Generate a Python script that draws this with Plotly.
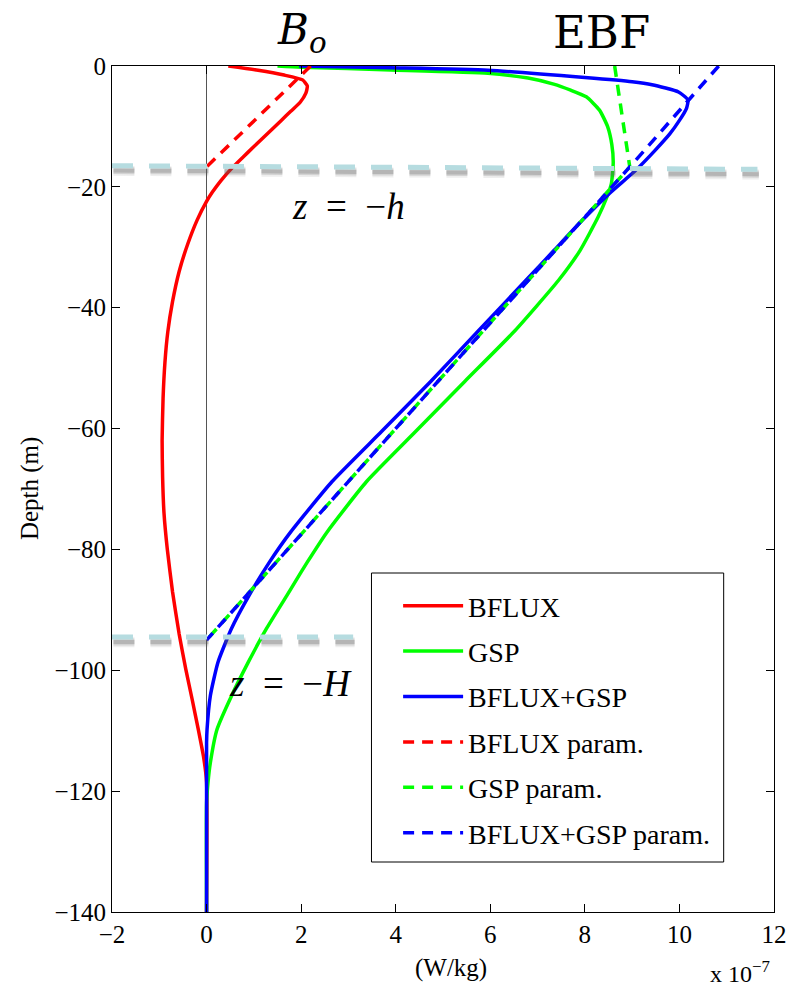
import plotly.graph_objects as go

# Energy source profiles vs depth (units of 1e-7 W/kg)
bflux_x = [0.46, 1.09, 1.64, 2.03, 2.13, 2.1, 1.98, 1.78, 1.58, 1.38, 1.18, 0.98, 0.78, 0.56, 0.3,
           0.12, 0.0, -0.2, -0.4, -0.58, -0.72, -0.82, -0.88, -0.92, -0.94, -0.93, -0.9, -0.83,
           -0.72, -0.58, -0.44, -0.3, -0.17, -0.06, 0.0, 0.0]
bflux_z = [0, -0.7, -1.5, -2.3, -3.3, -4.5, -6.0, -7.5, -9.0, -10.5, -12.0, -13.5, -15.0, -16.7,
           -19.0, -20.9, -22.4, -25.5, -29.5, -34.0, -39.0, -44.0, -49.0, -55.0, -62.0, -68.0,
           -74.0, -80.0, -87.0, -94.0, -99.8, -105.0, -110.0, -114.5, -118.5, -140]

gsp_x = [1.5, 2.0, 3.9, 5.95, 6.8, 7.34, 7.7, 8.03, 8.31, 8.48, 8.57, 8.6, 8.56, 8.45, 8.28, 7.9,
         7.44, 6.51, 5.46, 4.42, 3.38, 2.55, 2.13, 1.87, 1.7, 1.26, 0.88, 0.53, 0.22, 0.08, 0.03,
         0.0, 0.0]
gsp_z = [0, -0.2, -0.65, -1.2, -2.0, -3.0, -4.0, -5.1, -7.3, -10.0, -13.0, -16.0, -19.5, -22.0,
         -25.0, -30.5, -35.5, -43.9, -52.2, -60.5, -68.8, -77.1, -82.1, -85.4, -87.6, -93.2, -98.7,
         -104.2, -109.8, -115.3, -118.6, -122.0, -140]

sum_x = [1.96, 3.9, 5.95, 8.0, 9.0, 9.42, 9.98, 10.18, 10.15, 10.0, 9.8, 9.48, 9.07, 8.53, 7.95,
         7.35, 6.75, 5.74, 4.74, 3.7, 2.65, 1.78, 1.33, 0.9, 0.52, 0.24, 0.08, 0.01, 0.0, 0.0]
sum_z = [0, -0.3, -0.7, -1.9, -2.6, -3.1, -4.3, -5.6, -7.0, -9.0, -11.2, -14.0, -17.3, -21.0,
         -25.5, -30.5, -35.5, -43.9, -52.2, -60.5, -68.8, -77.1, -82.1, -87.6, -93.2, -98.7,
         -104.2, -109.8, -112.0, -140]

# Parameterised profiles
bflux_par_x = [2.2, 0.0]
bflux_par_z = [0, -16.7]
gsp_par_x = [8.63, 8.95, 0.0]
gsp_par_z = [0, -16.7, -95.0]
sum_par_x = [10.83, 8.95, 0.0]
sum_par_z = [0, -16.7, -95.0]

# Mixed-layer depth h and forcing depth H
h_depth_left, h_depth_right = -16.5, -17.1
H_depth = -94.5

x_ticks = [-2, 0, 2, 4, 6, 8, 10, 12]
y_ticks = [0, -20, -40, -60, -80, -100, -120, -140]

RED, GREEN, BLUE = "#ff0000", "#00ff00", "#0000ff"
SERIF = "Liberation Serif, Times New Roman, serif"
MATH = "DejaVu Serif, serif"
DASH = "11px,8px"

fig = go.Figure()

series = [
    ("BFLUX", bflux_x, bflux_z, RED, "solid"),
    ("GSP", gsp_x, gsp_z, GREEN, "solid"),
    ("BFLUX+GSP", sum_x, sum_z, BLUE, "solid"),
    ("BFLUX param.", bflux_par_x, bflux_par_z, RED, DASH),
    ("GSP param.", gsp_par_x, gsp_par_z, GREEN, DASH),
    ("BFLUX+GSP param.", sum_par_x, sum_par_z, BLUE, DASH),
]
for i, (name, xs, zs, color, dash) in enumerate(series):
    fig.add_trace(go.Scatter(
        x=xs, y=zs, mode="lines", name=name, legendgroup=f"g{i}",
        line=dict(color=color, width=3.5, dash=dash,
                  shape="spline" if dash == "solid" else "linear", smoothing=0.5),
    ))

shapes = []

# legend frame
shapes.append(dict(type="rect", xref="paper", yref="paper",
                   x0=(375 - 112) / 671, x1=(732 - 112) / 671,
                   y0=(912 - 862) / 846, y1=(912 - 573) / 846,
                   line=dict(color="black", width=1), fillcolor="white", layer="below"))


def ref_line(x0, x1, y0, y1):
    # soft grey shadow under a pale cyan dashed marker line
    out = []
    for w, a, off in [(10, 0.10, 0.85), (7, 0.18, 0.8), (4, 0.25, 0.8)]:
        out.append(dict(type="line", xref="x", yref="y", x0=x0 + 0.03, x1=x1 + 0.03,
                        y0=y0 - off, y1=y1 - off,
                        line=dict(color=f"rgba(90,90,90,{a})", width=w, dash="21px,16px")))
    out.append(dict(type="line", xref="x", yref="y", x0=x0, x1=x1, y0=y0, y1=y1,
                    line=dict(color="#b6dce0", width=5, dash="21px,16px")))
    return out


shapes += ref_line(-2, 11.65, h_depth_left, h_depth_right)
shapes += ref_line(-2, 3.1, H_depth, H_depth)

annotations = [
    dict(x=305, y=32, text="<i>B</i><sub><i>o</i></sub>",
         font=dict(family=MATH, size=42, color="black")),
    dict(x=608, y=32, text="EBF", font=dict(family=MATH, size=45, color="black")),
    dict(x=352, y=207, text="<i>z</i>\u2002=\u2002\u2212<i>h</i>",
         font=dict(family=SERIF, size=37, color="black")),
    dict(x=293, y=683, text="<i>z</i>\u2002=\u2002\u2212<i>H</i>",
         font=dict(family=SERIF, size=37, color="black")),
    dict(x=29, y=489, text="Depth (m)", textangle=-90,
         font=dict(family=SERIF, size=25, color="black")),
    dict(x=456, y=968, text="(W/kg)", font=dict(family=SERIF, size=25, color="black")),
    dict(x=749, y=972, text="x 10<sup>\u22127</sup>", font=dict(family=SERIF, size=24, color="black")),
]
# convert pixel positions into paper coordinates
for a in annotations:
    a["x"] = (a["x"] - 112) / 671
    a["y"] = (912 - a["y"]) / 846
    a.update(xref="paper", yref="paper", xanchor="center", yanchor="middle", showarrow=False)

fig.update_layout(
    width=799, height=990,
    margin=dict(l=112, r=16, t=66, b=78),
    paper_bgcolor="white", plot_bgcolor="white",
    font=dict(family=SERIF, size=25, color="black"),
    showlegend=True,
    legend=dict(x=(402 - 112) / 671, y=(912 - 581) / 846, xanchor="left", yanchor="top",
                bgcolor="rgba(0,0,0,0)", borderwidth=0, itemwidth=60,
                tracegroupgap=6, font=dict(family=SERIF, size=28, color="black")),
    shapes=shapes,
    annotations=annotations,
    xaxis=dict(range=[-2, 12], tickvals=x_ticks, showgrid=False, zeroline=True,
               zerolinecolor="#555555", zerolinewidth=1, showline=True, linecolor="black",
               linewidth=1, mirror="ticks", ticks="inside", ticklen=8, tickcolor="black",
               tickfont=dict(family=SERIF, size=25)),
    yaxis=dict(range=[-140, 0], tickvals=y_ticks, showgrid=False, zeroline=False,
               showline=True, linecolor="black", linewidth=1, mirror="ticks", ticks="inside",
               ticklen=8, tickcolor="black", tickfont=dict(family=SERIF, size=25)),
)

fig.write_html("out.html")
